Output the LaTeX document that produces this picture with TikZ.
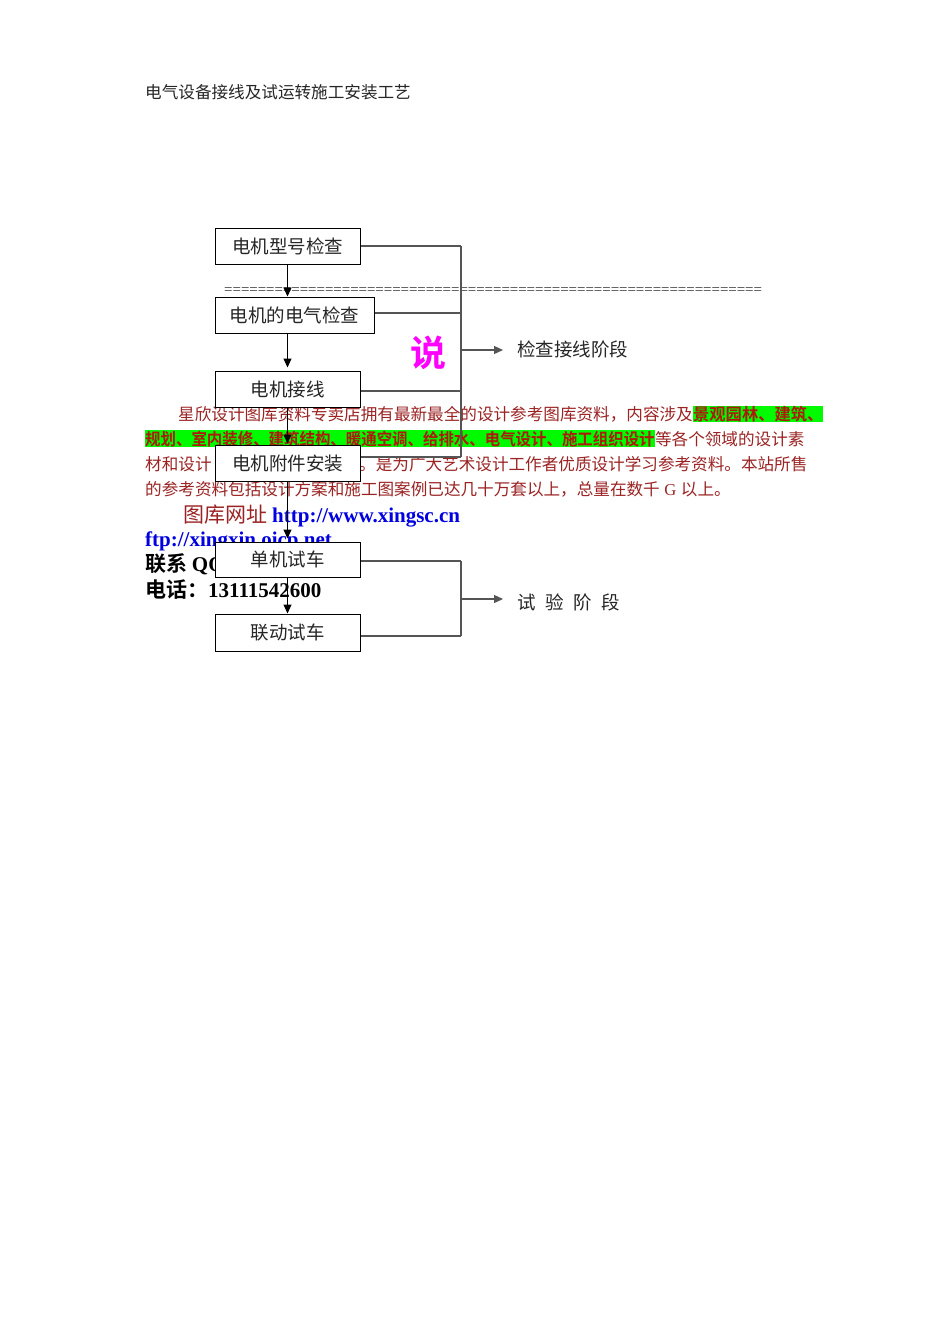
\documentclass[tikz,border=0pt]{standalone}
\usepackage{fontspec}
\setmainfont{Liberation Serif}
\newfontfamily\cjk{Noto Sans CJK SC}[BoldFont={Noto Sans CJK SC Bold}]
\usetikzlibrary{arrows.meta}
\definecolor{txtred}{RGB}{155,35,35}
\definecolor{hlred}{RGB}{175,25,10}
\definecolor{hlgreen}{RGB}{0,250,0}
\definecolor{urlblue}{RGB}{0,0,225}
\definecolor{linegray}{RGB}{85,85,85}
\definecolor{shuo}{RGB}{255,0,255}
\begin{document}
\begin{tikzpicture}[x=1pt,y=-1pt,
  box/.style={draw=black, line width=1pt, fill=white, minimum width=145pt, minimum height=36pt, inner sep=0pt, text=black!85, font=\cjk\fontsize{18.5}{20}\selectfont},
  conn/.style={draw=linegray, line width=1.3pt},
  arr/.style={conn, -{Triangle[length=9pt,width=8pt]}},
  down/.style={draw=black, line width=1.1pt, -{Triangle[length=9pt,width=8pt]}},
  para/.style={anchor=base west, inner sep=0pt, text=txtred, font=\cjk\fontsize{16.6}{18}\selectfont},
  hl/.style={anchor=base west, inner xsep=0pt, inner ysep=0.5pt, fill=hlgreen, text=hlred, font=\cjk\bfseries\fontsize{16.6}{18}\selectfont},
  plain/.style={anchor=base west, inner sep=0pt},
  stage/.style={anchor=base west, inner sep=0pt, text=black!85, font=\cjk\fontsize{18.5}{20}\selectfont}
]
\useasboundingbox[fill=white] (0,0) rectangle (950,1344);

% title
\node[plain, text=black!85, font=\cjk\fontsize{16.6}{18}\selectfont] (title) at (145,98.3) {电气设备接线及试运转施工安装工艺};

% paragraph
\node[para] (p1a) at (178,420.3) {星欣设计图库资料专卖店拥有最新最全的设计参考图库资料，内容涉及};
\node[hl] (p1b) at (p1a.base east) {\scalebox{0.98}[1]{景观园林、建筑、}};
\node[hl] (p2a) at (145,445.3) {\scalebox{0.93}[1]{规划、室内装修、建筑结构、暖通空调、给排水、电气设计、施工组织设计}};
\node[para] (p2b) at (p2a.base east) {等各个领域的设计素};
\node[para] (p3a) at (145,470.3) {材和设计};
\node[para] (p3b) at (359,470.3) {。是为广大艺术设计工作者优质设计学习参考资料。本站所售};
\node[para] (p4a) at (145,495.3) {的参考资料包括设计方案和施工图案例已达几十万套以上，总量在数千};
\node[para, font=\fontsize{16.6}{18}\selectfont] (p4b) at ([xshift=4.2pt]p4a.base east) {G};
\node[para] (p4c) at ([xshift=4.2pt]p4b.base east) {以上。};

% contact lines
\node[plain, text=txtred, font=\cjk\fontsize{21}{24}\selectfont] (u1) at (183,522) {图库网址};
\node[plain, text=urlblue, font=\bfseries\fontsize{21}{24}\selectfont] (u2) at (272,522) {http://www.xingsc.cn};
\node[plain, text=urlblue, font=\bfseries\fontsize{21}{24}\selectfont] (u3) at (145,546) {ftp://xingxin.oicp.net};
\node[plain, text=black, font=\cjk\bfseries\fontsize{21}{24}\selectfont] (u4) at (145,571) {联系 {\rmfamily QQ}};
\node[plain, text=black, font=\cjk\bfseries\fontsize{21}{24}\selectfont] (u5) at (145,597) {电话：{\rmfamily 13111542600}};

% equal-sign line
\node[plain, text=black!80, font=\fontsize{14.9}{16}\selectfont] (eq) at (224,294.5) {================================================================};

% boxes
\node[box] (b1) at (287.5,246) {电机型号检查};
\node[box, minimum width=159pt] (b2) at (294.5,315) {电机的电气检查};
\node[box] (b3) at (287.5,389) {电机接线};
\node[box] (b4) at (287.5,463) {电机附件安装};
\node[box, minimum height=35pt] (b5) at (287.5,559.5) {单机试车};
\node[box, minimum height=37pt] (b6) at (287.5,632.5) {联动试车};

% vertical arrows
\draw[down] (b1.south) -- (b1.south |- b2.north);
\draw[down] (b1.south |- b2.south) -- ([yshift=3pt]b3.north);
\draw[down] (b3.south) -- ([yshift=1pt]b4.north);
\draw[down] (b4.south) -- ([yshift=3pt]b5.north);
\draw[down] (b5.south) -- (b6.north);

% upper bracket
\coordinate (kx) at (461,0);
\draw[conn] (b1.east) -- (b1.east -| kx);
\draw[conn] ([yshift=2pt]b2.east) -- ([yshift=2pt]b2.east -| kx);
\draw[conn] ([yshift=-2pt]b3.east) -- ([yshift=-2pt]b3.east -| kx);
\draw[conn] ([yshift=6pt]b4.east) -- ([yshift=6pt]b4.east -| kx);
\draw[conn] (b1.east -| kx) -- ([yshift=6pt]b4.east -| kx);
\node[stage] (s1) at (517,356) {检查接线阶段};
\coordinate (m1) at (461,350);
\draw[arr] (m1) -- (m1 -| s1.west) [shorten >=14pt];

% lower bracket
\draw[conn] ([yshift=-1.5pt]b5.east) -- ([yshift=-1.5pt]b5.east -| kx);
\draw[conn] ([yshift=-3.5pt]b6.east) -- ([yshift=-3.5pt]b6.east -| kx);
\draw[conn] ([yshift=-1.5pt]b5.east -| kx) -- ([yshift=-3.5pt]b6.east -| kx);
\node[stage] (s2) at (517,609) {试\hspace{9.6pt}验\hspace{9.6pt}阶\hspace{9.6pt}段};
\coordinate (m2) at (461,599);
\draw[arr] (m2) -- (m2 -| s2.west) [shorten >=14pt];

% magenta character
\node[plain, text=shuo, font=\cjk\bfseries\fontsize{36}{40}\selectfont] (sh) at (410,366) {说};
\end{tikzpicture}
\end{document}
